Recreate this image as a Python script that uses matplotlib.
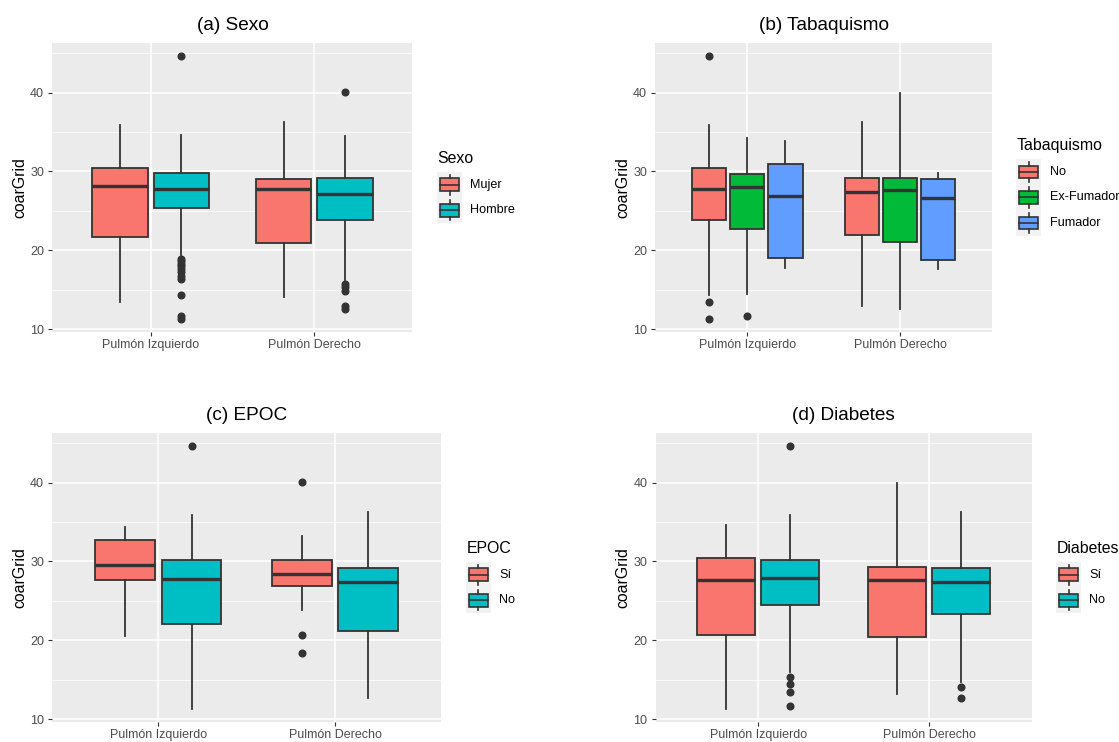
import matplotlib
matplotlib.use("Agg")
from matplotlib import pyplot as plt
from matplotlib.patches import Rectangle

plt.rcParams['font.family'] = ['Liberation Sans', 'DejaVu Sans']

W, H = 1119, 742

locations = ["Pulmón Izquierdo", "Pulmón Derecho"]

# (a) Sexo  -- rows: location, columns: group
sexo_groups = ["Mujer", "Hombre"]
sexo_q1 = [[21.7, 25.4], [20.9, 23.8]]
sexo_med = [[28.1, 27.75], [27.75, 27.2]]
sexo_q3 = [[30.4, 29.8], [29.1, 29.2]]
sexo_lo = [[13.5, 19.0], [14.1, 16.3]]
sexo_hi = [[35.9, 34.6], [36.3, 34.5]]
sexo_out = [[[], [44.65, 18.9, 18.6, 18.3, 18.0, 17.6, 17.2, 16.8, 16.4, 14.4, 11.7, 11.35]],
            [[], [40.1, 15.7, 15.3, 14.9, 13.0, 12.6]]]

# (b) Tabaquismo
tab_groups = ["No", "Ex-Fumador", "Fumador"]
tab_q1 = [[23.8, 22.7, 19.0], [21.9, 21.1, 18.8]]
tab_med = [[27.8, 28.0, 26.9], [27.4, 27.6, 26.6]]
tab_q3 = [[30.4, 29.7, 31.0], [29.2, 29.2, 29.1]]
tab_lo = [[14.4, 14.5, 17.7], [13.0, 12.6, 17.6]]
tab_hi = [[35.9, 34.2, 33.9], [36.3, 40.0, 29.8]]
tab_out = [[[44.65, 13.5, 11.35], [11.7], []],
           [[], [], []]]

# (c) EPOC
epoc_groups = ["Sí", "No"]
epoc_q1 = [[27.6, 22.1], [26.9, 21.2]]
epoc_med = [[29.5, 27.8], [28.35, 27.4]]
epoc_q3 = [[32.7, 30.2], [30.2, 29.2]]
epoc_lo = [[20.5, 11.35], [23.8, 12.65]]
epoc_hi = [[34.3, 35.9], [33.2, 36.3]]
epoc_out = [[[], [44.65]],
            [[40.1, 20.7, 18.4], []]]

# (d) Diabetes
diab_groups = ["Sí", "No"]
diab_q1 = [[20.7, 24.5], [20.4, 23.3]]
diab_med = [[27.7, 27.9], [27.6, 27.4]]
diab_q3 = [[30.4, 30.2], [29.3, 29.2]]
diab_lo = [[11.35, 16.0], [13.2, 14.7]]
diab_hi = [[34.6, 35.9], [40.0, 36.3]]
diab_out = [[[], [44.65, 15.3, 14.5, 13.5, 11.7]],
            [[], [14.1, 12.7]]]

RED, CYAN, GREEN, BLUE = "#F8766D", "#00BFC4", "#00BA38", "#619CFF"
EDGE = "#333333"

fig = plt.figure(figsize=(W / 100, H / 100), dpi=100)
overlay = fig.add_axes([0, 0, 1, 1], zorder=-1)
overlay.set_xlim(0, W)
overlay.set_ylim(H, 0)
overlay.axis('off')


def draw_legend(x0, cy, title, groups, colors):
    kw, kh = 25, 25.5
    head = 20.6
    n = len(groups)
    ktop = cy - (head + kh * n) / 2 + head
    overlay.text(x0 + 0.7, ktop - 9.3, title, fontsize=11.4, va='baseline', ha='left')
    overlay.add_patch(Rectangle((x0, ktop), kw, kh * n, facecolor='#F2F2F2', edgecolor='none'))
    for j, (g, c) in enumerate(zip(groups, colors)):
        y0 = ktop + j * kh
        xm = x0 + kw / 2
        overlay.plot([xm, xm], [y0 + 0.1 * kh, y0 + 0.25 * kh], color=EDGE, lw=1.2)
        overlay.plot([xm, xm], [y0 + 0.75 * kh, y0 + 0.9 * kh], color=EDGE, lw=1.2)
        overlay.add_patch(Rectangle((x0 + 0.125 * kw, y0 + 0.25 * kh), 0.75 * kw, 0.5 * kh,
                                    facecolor=c, edgecolor=EDGE, lw=1.2))
        overlay.plot([x0 + 0.125 * kw, x0 + 0.875 * kw], [y0 + kh / 2] * 2, color=EDGE, lw=1.2)
        overlay.text(x0 + kw + 8.3, y0 + kh / 2, g, fontsize=9.1, va='center', ha='left')


def draw_panel(rect, title, legend_title, groups, colors, q1, med, q3, lo, hi, out):
    left, top, right, bottom = rect
    ax = fig.add_axes([left / W, 1 - bottom / H, (right - left) / W, (bottom - top) / H])
    ax.set_facecolor("#EBEBEB")
    n = len(groups)
    slot = 0.75 / n
    values = []
    for i in range(len(locations)):
        for j in range(n):
            pos = i + 1 + (j - (n - 1) / 2) * slot
            stats = dict(med=med[i][j], q1=q1[i][j], q3=q3[i][j],
                         whislo=lo[i][j], whishi=hi[i][j], fliers=out[i][j])
            values += [lo[i][j], hi[i][j]] + list(out[i][j])
            ax.bxp([stats], positions=[pos], widths=[slot * 0.9], patch_artist=True,
                   showcaps=False, manage_ticks=False,
                   boxprops=dict(facecolor=colors[j], edgecolor=EDGE, linewidth=1.3),
                   whiskerprops=dict(color=EDGE, linewidth=1.3),
                   medianprops=dict(color=EDGE, linewidth=2.4, solid_capstyle='butt'),
                   flierprops=dict(marker='o', markerfacecolor=EDGE, markeredgecolor=EDGE,
                                   markersize=4.8))
    vmin, vmax = min(values), max(values)
    pad = 0.05 * (vmax - vmin)
    ax.set_ylim(vmin - pad, vmax + pad)
    ax.set_xlim(0.4, len(locations) + 0.6)
    ax.set_xticks(range(1, len(locations) + 1), locations)
    ax.set_yticks([10, 20, 30, 40])
    ax.set_yticks([15, 25, 35, 45], minor=True)
    ax.set_axisbelow(True)
    ax.xaxis.grid(True, which='major', color='white', lw=1.1)
    ax.yaxis.grid(True, which='major', color='white', lw=1.1)
    ax.yaxis.grid(True, which='minor', color='white', lw=0.55)
    for s in ax.spines.values():
        s.set_visible(False)
    ax.tick_params(which='major', length=2.9, width=0.8, color=EDGE,
                   labelcolor='#4D4D4D', labelsize=9)
    ax.tick_params(axis='x', pad=2.6)
    ax.tick_params(axis='y', pad=3.1)
    ax.tick_params(which='minor', length=0)
    ax.set_ylabel("coarGrid", fontsize=11.4, labelpad=2)
    ax.set_title(title, fontsize=13.7, pad=9)
    draw_legend(right + 24.5, (top + bottom) / 2, legend_title, groups, colors)
    return ax


draw_panel((52.5, 42.7, 412.5, 331.7), "(a) Sexo", "Sexo", sexo_groups, [RED, CYAN],
           sexo_q1, sexo_med, sexo_q3, sexo_lo, sexo_hi, sexo_out)
draw_panel((655.5, 42.7, 991.8, 331.7), "(b) Tabaquismo", "Tabaquismo", tab_groups,
           [RED, GREEN, BLUE], tab_q1, tab_med, tab_q3, tab_lo, tab_hi, tab_out)
draw_panel((52.3, 432.7, 441.2, 721.7), "(c) EPOC", "EPOC", epoc_groups, [RED, CYAN],
           epoc_q1, epoc_med, epoc_q3, epoc_lo, epoc_hi, epoc_out)
draw_panel((655.7, 432.7, 1031.6, 721.7), "(d) Diabetes", "Diabetes", diab_groups, [RED, CYAN],
           diab_q1, diab_med, diab_q3, diab_lo, diab_hi, diab_out)

fig.savefig("out.png", dpi=100)
